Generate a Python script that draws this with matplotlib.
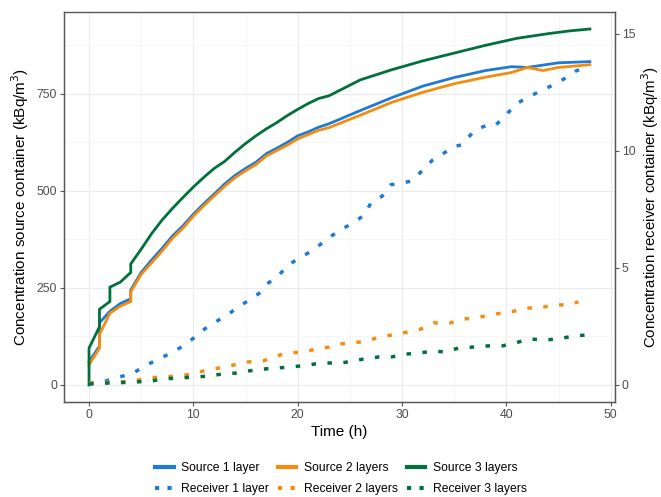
"""Source and receiver container concentrations over time."""

import matplotlib
matplotlib.use("Agg")
import matplotlib.pyplot as plt
from matplotlib.lines import Line2D

plt.rcParams["font.family"] = ["Liberation Sans", "DejaVu Sans"]

# --- data ----------------------------------------------------------------------------------------

t_src1 = [0, 1, 1, 2, 3, 4, 4, 5, 6, 7, 8, 9, 10, 11, 12, 13, 14, 15, 16, 17, 18, 19,
          20, 21, 22, 23, 26, 29, 32, 35, 38, 40.5, 42, 45, 48]
src1 = [60, 100, 160, 190, 210, 222, 245, 290, 322, 352, 384, 410, 440, 467, 492, 518, 540,
        558, 574, 596, 610, 625, 642, 652, 664, 673, 707, 740, 770, 792, 810, 820, 818, 830, 833]

t_src2 = [0, 1, 1, 2, 3, 4, 4, 5, 6, 7, 8, 9, 10, 11, 12, 13, 14, 15, 16, 17, 18, 19,
          20, 21, 22, 23, 26, 29, 32, 35, 38, 40.5, 42, 43.5, 45, 48]
src2 = [52, 95, 130, 185, 203, 215, 240, 285, 315, 345, 378, 404, 435, 462, 487, 512, 534,
        552, 568, 590, 604, 618, 634, 645, 656, 663, 695, 728, 754, 776, 793, 805, 818, 810,
        818, 825]

t_src3 = [0, 0, 1, 1, 2, 2, 3, 4, 4, 5, 6, 7, 8, 9, 10, 11, 12, 13, 14, 15, 16, 17, 18,
          19, 20, 21, 22, 23, 26, 29, 32, 35, 38, 41, 44, 46, 48]
src3 = [0, 95, 150, 195, 215, 252, 265, 290, 312, 350, 390, 425, 455, 483, 510, 535, 558,
        576, 600, 622, 642, 660, 676, 694, 710, 725, 738, 745, 786, 812, 835, 855, 875, 893,
        905, 912, 917]

t_rec1 = [0, 1.6, 2.9, 4.2, 5.3, 6.6, 7.8, 9, 10.1, 11.1, 12.3, 13.5, 14.4, 15.5, 16.5,
          17.2, 18.3, 19, 20, 21, 22.1, 23, 24.1, 25.2, 26.4, 27, 28.1, 28.9, 30, 31, 31.9,
          32.9, 34, 35, 35.7, 36.4, 37, 38, 38.9, 39.9, 40.9, 42.1, 43, 44.4, 45.5, 46.6, 47.6]
rec1 = [0.08, 0.17, 0.34, 0.5, 0.8, 1.1, 1.35, 1.66, 2.03, 2.4, 2.74, 3.07, 3.37, 3.66, 3.98,
        4.36, 4.74, 5.1, 5.38, 5.64, 5.98, 6.3, 6.62, 6.9, 7.26, 7.77, 8.07, 8.55, 8.63, 8.72,
        9.15, 9.6, 9.9, 10.2, 10.25, 10.6, 10.9, 11.07, 11.07, 11.5, 12.0, 12.3, 12.5, 12.8,
        13.07, 13.4, 13.6]

t_rec2 = [0, 2.9, 4.3, 5.7, 7.0, 8.5, 9.9, 11, 12.5, 13.8, 15.1, 16.7, 17.9, 19.2, 20.6,
          21.8, 23, 24.1, 25.3, 26.7, 27.8, 29.1, 30.5, 31.8, 33, 34.6, 35.8, 37.1, 38.5,
          39.7, 40.8, 41.8, 43.1, 44.6, 45.9, 46.9]
rec2 = [0.08, 0.13, 0.17, 0.3, 0.34, 0.38, 0.47, 0.6, 0.73, 0.85, 0.98, 1.03, 1.24, 1.37,
        1.41, 1.54, 1.62, 1.75, 1.8, 1.88, 2.05, 2.14, 2.26, 2.39, 2.65, 2.65, 2.82, 2.86,
        3.0, 3.08, 3.16, 3.29, 3.29, 3.42, 3.42, 3.55]

t_rec3 = [0, 1.6, 3.0, 4.5, 6, 7.1, 8.7, 10.1, 11.4, 12.8, 14.1, 15.3, 16.7, 18.1, 19.4,
          20.9, 22.3, 24.2, 26.2, 27.8, 29.0, 30.4, 31.7, 33.0, 34.2, 35.4, 36.8, 38.2, 39.6,
          40.9, 42.2, 43.6, 45, 46.4, 47.8]
rec3 = [0.04, 0.08, 0.1, 0.13, 0.17, 0.26, 0.3, 0.34, 0.38, 0.47, 0.51, 0.6, 0.68, 0.73,
        0.77, 0.85, 0.94, 0.94, 1.1, 1.2, 1.2, 1.32, 1.37, 1.45, 1.41, 1.58, 1.62, 1.67, 1.67,
        1.8, 1.97, 1.92, 1.97, 2.09, 2.14]

labels_src = ["Source 1 layer", "Source 2 layers", "Source 3 layers"]
labels_rec = ["Receiver 1 layer", "Receiver 2 layers", "Receiver 3 layers"]
colors = ["#1f7ad6", "#f68b0f", "#00703c"]

# --- plot ----------------------------------------------------------------------------------------

ratio = 60.3
grid_major = "#ebebeb"
grid_minor = "#f5f5f5"
dotted = (0, (1.3, 3.3))

fig = plt.figure(figsize=(6.61, 4.97), dpi=100)
ax = fig.add_axes([0.0968, 0.191, 0.8335, 0.785])
ax2 = ax.twinx()

for tt, yy, c in zip([t_src1, t_src2, t_src3], [src1, src2, src3], colors):
    ax.plot(tt, yy, color=c, lw=2.0, solid_joinstyle="miter", zorder=3)
for tt, yy, c in zip([t_rec1, t_rec2, t_rec3], [rec1, rec2, rec3], colors):
    ax2.plot(tt, yy, color=c, lw=2.5, linestyle=dotted, dash_capstyle="butt")

ax.set_xlim(-2.4, 50.4)
ax.set_ylim(-44, 961)
ax2.set_ylim(-44 / ratio, 961 / ratio)

ax.set_xticks([0, 10, 20, 30, 40, 50])
ax.set_xticks([5, 15, 25, 35, 45], minor=True)
ax.set_yticks([0, 250, 500, 750])
ax.set_yticks([125, 375, 625, 875], minor=True)
ax2.set_yticks([0, 5, 10, 15])
ax.grid(which="major", color=grid_major, lw=0.8)
ax.grid(which="minor", color=grid_minor, lw=0.6)
ax.set_axisbelow(True)

for a in (ax, ax2):
    for s in a.spines.values():
        s.set_color("#555555")
        s.set_linewidth(0.9)
    a.tick_params(which="major", length=3, width=0.8, color="#555555", labelcolor="#4d4d4d",
                  labelsize=8.8, pad=2)
    a.tick_params(which="minor", length=0)
ax.spines["top"].set_color("#aaaaaa")

ax.set_xlabel("Time (h)", fontsize=11, labelpad=3)
ax.set_ylabel("Concentration source container (kBq/m$^3$)", fontsize=11, labelpad=4)
ax2.set_ylabel("Concentration receiver container (kBq/m$^3$)", fontsize=10.8, rotation=90,
               labelpad=3)

handles = []
for c, ls, lr in zip(colors, labels_src, labels_rec):
    handles.append(Line2D([], [], color=c, lw=3, label=ls))
    handles.append(Line2D([], [], color=c, lw=3, linestyle=(0, (1, 2)), label=lr))
fig.legend(handles=handles, ncol=3, loc="center", bbox_to_anchor=(0.516, 0.037),
           frameon=False, fontsize=8.7, handlelength=1.5, columnspacing=0.8,
           labelspacing=0.75, handletextpad=0.6)

fig.savefig("out.png", dpi=100)
